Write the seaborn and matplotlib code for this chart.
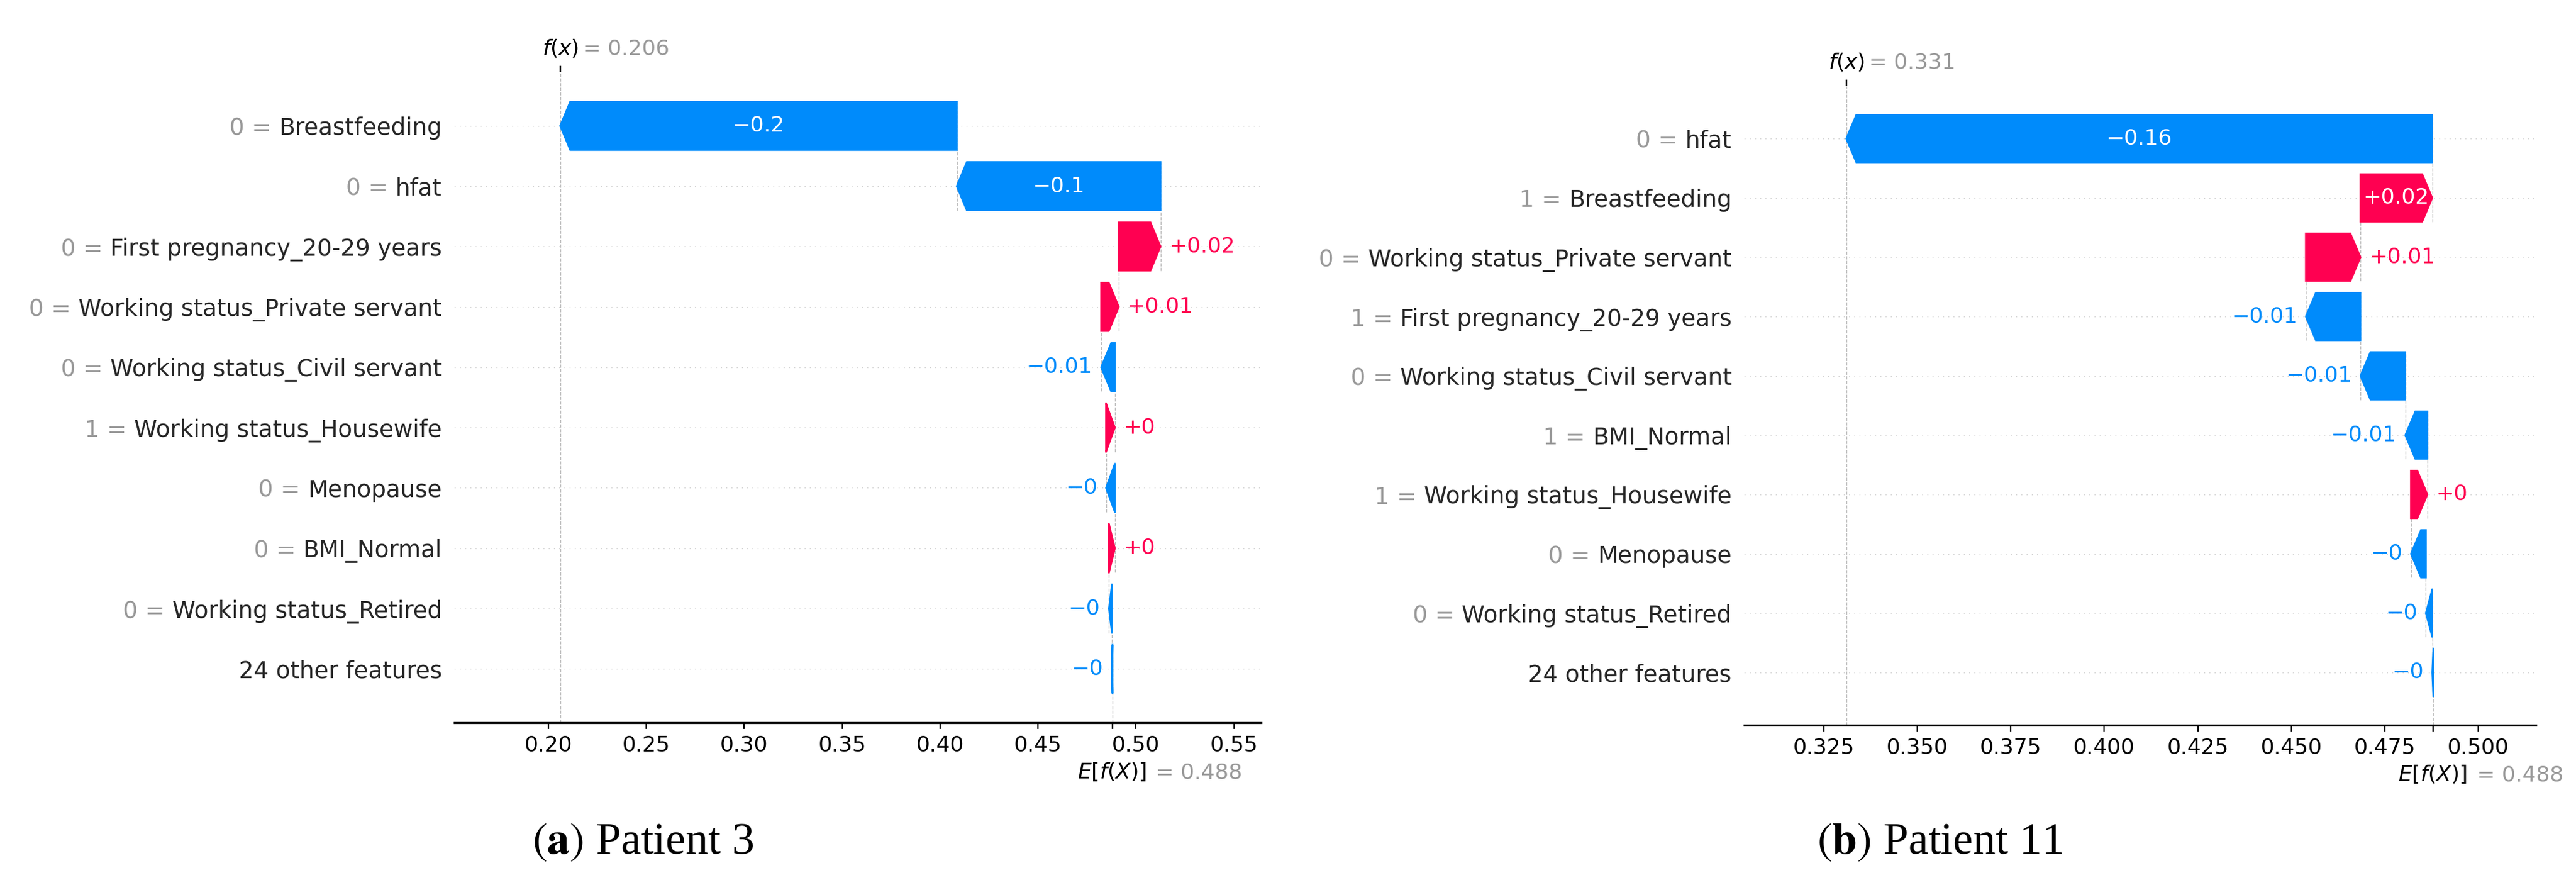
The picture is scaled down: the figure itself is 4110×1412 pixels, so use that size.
import re
import matplotlib
matplotlib.use("Agg")
import matplotlib.pyplot as plt
import matplotlib.transforms as mtransforms
import numpy as np
import seaborn as sns

# expected model output, same for both patients
base_value = 0.488

# patient 3, rows listed top to bottom
features_a = ["Breastfeeding", "hfat", "First pregnancy_20-29 years",
              "Working status_Private servant", "Working status_Civil servant",
              "Working status_Housewife", "Menopause", "BMI_Normal",
              "Working status_Retired", "24 other features"]
feature_vals_a = [0, 0, 0, 0, 0, 1, 0, 0, 0, None]
shap_a = [-0.2025, -0.1040, 0.0213, 0.0090, -0.0070, 0.0045, -0.0045, 0.0030,
          -0.0015, -0.0003]
xticks_a = [0.20, 0.25, 0.30, 0.35, 0.40, 0.45, 0.50, 0.55]

# patient 11
features_b = ["hfat", "Breastfeeding", "Working status_Private servant",
              "First pregnancy_20-29 years", "Working status_Civil servant",
              "BMI_Normal", "Working status_Housewife", "Menopause",
              "Working status_Retired", "24 other features"]
feature_vals_b = [0, 1, 0, 1, 0, 1, 1, 0, 0, None]
shap_b = [-0.1567, 0.0192, 0.0146, -0.0146, -0.0120, -0.0059, 0.0044, -0.0040,
          -0.0017, -0.0003]
xticks_b = [0.325, 0.350, 0.375, 0.400, 0.425, 0.450, 0.475, 0.500]

captions = [r"$(\mathbf{a})$ Patient 3", r"$(\mathbf{b})$ Patient 11"]

RED = "#ff0051"
BLUE = "#008bfb"
GRAY = "#999999"

sns.set_style("white")
plt.rcParams["font.family"] = ["DejaVu Sans"]
plt.rcParams["text.color"] = "black"
plt.rcParams["xtick.color"] = "black"
plt.rcParams["axes.edgecolor"] = "black"


def fmt(v, f):
    s = f % v
    s = re.sub(r"\.?0+$", "", s)
    if s[0] == "-":
        s = "\u2212" + s[1:]
    return s


def waterfall(fig, ax, names, fvals, contribs, xlim, xticks):
    n = len(names)
    ys = np.arange(n)[::-1]
    contribs = np.asarray(contribs, dtype=float)
    fx = base_value + contribs.sum()
    ends = base_value + np.cumsum(contribs[::-1])[::-1]
    starts = ends - contribs

    ax.set_xlim(*xlim)
    ax.set_ylim(-0.89, n - 1 + 0.89)

    width_in = ax.get_position().width * fig.get_figwidth()
    x_per_in = (xlim[1] - xlim[0]) / width_in
    hl = 0.08 * x_per_in
    renderer = fig.canvas.get_renderer()

    for i in range(n):
        c, s, y = contribs[i], starts[i], ys[i]
        if c >= 0:
            arr = ax.arrow(s, y, max(c - hl, 1e-6), 0, head_length=min(c, hl),
                           color=RED, width=0.8, head_width=0.8)
            col = RED
        else:
            arr = ax.arrow(s, y, -max(-c - hl, 1e-6), 0, head_length=min(-c, hl),
                           color=BLUE, width=0.8, head_width=0.8)
            col = BLUE
        lab = fmt(c, "%+0.02f")
        txt = ax.text(s + 0.5 * c, y, lab, ha="center", va="center",
                      color="white", fontsize=12.4)
        if txt.get_window_extent(renderer).width > arr.get_window_extent(renderer).width:
            txt.remove()
            if c >= 0:
                ax.text(ends[i] + 5 / 72 * x_per_in, y, lab, ha="left",
                        va="center", color=col, fontsize=12.4)
            else:
                ax.text(ends[i] - 5 / 72 * x_per_in, y, lab, ha="right",
                        va="center", color=col, fontsize=12.4)

    # dashed connectors between consecutive bars
    for i in range(n - 1):
        ax.plot([starts[i], starts[i]], [ys[i] - 1 - 0.4, ys[i] + 0.4],
                color="#bbbbbb", linestyle="--", linewidth=0.5, zorder=-1)
    for y in ys:
        ax.axhline(y, color="#cccccc", lw=0.5, dashes=(1, 5), zorder=-1)
    ax.axvline(base_value, 0, 1 / n, color="#bbbbbb", linestyle="--",
               linewidth=0.5, zorder=-1)
    ax.axvline(fx, 0, 1, color="#bbbbbb", linestyle="--", linewidth=0.5,
               zorder=-1)

    # y labels: black feature name, gray "value =" just left of it
    ax.set_yticks(ys)
    ax.set_yticklabels(names, fontsize=13.4)
    ax.tick_params(axis="y", length=0, pad=7.2)
    for t, v in zip(ax.yaxis.get_majorticklabels(), fvals):
        if v is None:
            continue
        ax.annotate(fmt(v, "%0.03f") + " =", xy=(0, 0.5), xycoords=t,
                    xytext=(-4.26, 0), textcoords="offset points",
                    ha="right", va="center", fontsize=13.4, color=GRAY,
                    annotation_clip=False)

    ax.set_xticks(xticks)
    ax.tick_params(axis="x", labelsize=12.4, length=3.6, width=0.8,
                   direction="out", bottom=True)
    sns.despine(ax=ax, left=True)
    ax.spines["bottom"].set_linewidth(1.2)

    # E[f(X)] marker at the bottom, label one line below the tick labels
    ax_e = ax.twiny()
    ax_e.set_xlim(*xlim)
    ax_e.xaxis.set_ticks_position("bottom")
    ax_e.set_xticks([base_value, base_value + 1e-8])
    ax_e.set_xticklabels(["$E[f(X)]$", "= " + fmt(base_value, "%0.03f")],
                         fontsize=12.4, ha="left")
    ax_e.tick_params(axis="x", length=3.6, width=0.8, direction="out")
    tl = ax_e.xaxis.get_majorticklabels()
    tl[0].set_transform(tl[0].get_transform() + mtransforms.ScaledTranslation(
        -20.2 / 72, -15.2 / 72, fig.dpi_scale_trans))
    tl[1].set_transform(tl[1].get_transform() + mtransforms.ScaledTranslation(
        25.0 / 72, -15.8 / 72, fig.dpi_scale_trans))
    tl[1].set_color(GRAY)
    for sp in ax_e.spines.values():
        sp.set_visible(False)

    # f(x) marker at the top
    ax_f = ax.twiny()
    ax_f.set_xlim(*xlim)
    ax_f.set_xticks([fx, fx + 1e-8])
    ax_f.set_xticklabels(["$f(x)$", "= " + fmt(fx, "%0.03f")],
                         fontsize=12.4, ha="left")
    ax_f.tick_params(axis="x", length=3.6, width=0.8, direction="out")
    tl = ax_f.xaxis.get_majorticklabels()
    tl[0].set_transform(tl[0].get_transform() + mtransforms.ScaledTranslation(
        -10.4 / 72, 0, fig.dpi_scale_trans))
    tl[1].set_transform(tl[1].get_transform() + mtransforms.ScaledTranslation(
        13.2 / 72, 0, fig.dpi_scale_trans))
    tl[1].set_color(GRAY)
    for sp in ax_f.spines.values():
        sp.set_visible(False)


fig = plt.figure(figsize=(20.55, 7.06), dpi=200)
ax_a = fig.add_axes([0.1764, 0.1834, 0.3131, 0.7351])
ax_b = fig.add_axes([0.6771, 0.1806, 0.3073, 0.7224])

waterfall(fig, ax_a, features_a, feature_vals_a, shap_a, (0.152, 0.5638), xticks_a)
waterfall(fig, ax_b, features_b, feature_vals_b, shap_b, (0.3037, 0.5154), xticks_b)

for x, cap in zip([0.2496, 0.7530], captions):
    fig.text(x, 0.0474, cap, ha="center", va="center", fontsize=25.8,
             family="Liberation Serif", math_fontfamily="stix")

fig.savefig("out.png", dpi=200)
